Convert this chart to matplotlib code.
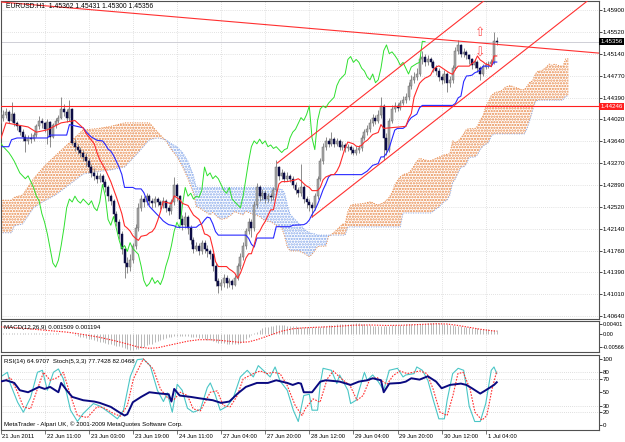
import numpy as np
import matplotlib
matplotlib.use("Agg")
import matplotlib.pyplot as plt
from matplotlib.transforms import blended_transform_factory as btf

plt.rcParams['font.family'] = ['Liberation Sans', 'DejaVu Sans']
plt.rcParams['hatch.linewidth'] = 1.1

BASE = 1.40  # prices are stored in pips above 1.4000

# ---------------- candles (EURUSD H1, bar 0 = 21 Jun 2011 19:00) ----------------
open_first = 400
close_pips = [405, 410, 415, 400, 412, 395, 390, 380, 372, 365,
              370, 368, 375, 390, 400, 395, 385, 398, 372, 392,
              400, 405, 420, 415, 405, 420, 362, 355, 350, 345,
              338, 330, 320, 310, 305, 300, 305, 295, 285, 270,
              262, 240, 225, 205, 180, 155, 148, 160, 185, 215,
              250, 265, 260, 270, 262, 258, 265, 260, 255, 262,
              250, 245, 260, 290, 270, 230, 220, 235, 215, 195,
              180, 185, 175, 190, 180, 175, 170, 150, 125, 115,
              120, 130, 120, 125, 118, 130, 150, 165, 185, 210,
              225, 215, 255, 285, 270, 275, 265, 270, 268, 280,
              320, 305, 310, 300, 305, 300, 290, 280, 275, 285,
              265, 260, 255, 250, 270, 300, 330, 355, 365, 360,
              368, 360, 365, 355, 358, 352, 355, 350, 345, 350,
              352, 370, 380, 385, 395, 405, 400, 410, 425, 370,
              350, 400, 420, 425, 422, 430, 435, 440, 460, 470,
              475, 480, 505, 510, 500, 505, 500, 490, 485, 475,
              470, 480, 465, 470, 490, 520, 530, 515, 518, 512,
              505, 495, 500, 490, 480, 492, 495, 498, 500, 536.2,
              535.6]
high_pips = [415, 418, 422, 418, 432, 414, 400, 393, 385, 376,
             375, 378, 380, 394, 408, 405, 398, 402, 400, 396,
             405, 410, 440, 428, 420, 435, 422, 368, 360, 355,
             350, 344, 336, 325, 318, 312, 310, 308, 300, 290,
             274, 265, 245, 230, 210, 185, 165, 170, 190, 222,
             258, 272, 270, 276, 274, 266, 270, 268, 264, 268,
             265, 255, 265, 303, 292, 272, 238, 242, 238, 220,
             200, 192, 190, 195, 195, 186, 180, 172, 155, 130,
             128, 136, 134, 130, 128, 135, 155, 172, 192, 215,
             232, 230, 262, 293, 290, 282, 280, 276, 275, 286,
             332, 322, 316, 314, 312, 308, 304, 295, 285, 325,
             290, 270, 265, 260, 276, 305, 336, 362, 372, 370,
             380, 372, 370, 368, 364, 362, 360, 358, 355, 356,
             358, 375, 386, 392, 402, 412, 410, 418, 441, 428,
             378, 405, 426, 432, 430, 436, 442, 448, 466, 478,
             484, 490, 512, 520, 514, 512, 510, 504, 495, 490,
             480, 486, 484, 476, 496, 527, 538, 532, 524, 522,
             515, 508, 506, 504, 494, 497, 500, 503, 506, 552,
             543.1]
low_pips = [395, 400, 405, 395, 398, 390, 383, 375, 365, 346,
            360, 362, 364, 372, 386, 388, 380, 360, 355, 370,
            388, 396, 402, 408, 398, 400, 358, 348, 343, 338,
            330, 322, 312, 303, 298, 292, 295, 290, 278, 262,
            255, 232, 218, 196, 170, 130, 138, 142, 155, 180,
            210, 245, 252, 255, 255, 250, 252, 253, 248, 250,
            243, 238, 240, 255, 262, 225, 212, 215, 205, 188,
            172, 175, 168, 170, 172, 165, 162, 142, 115, 103,
            108, 114, 112, 114, 110, 115, 126, 145, 160, 180,
            205, 200, 210, 250, 262, 264, 258, 260, 262, 264,
            276, 298, 300, 294, 296, 294, 284, 274, 268, 270,
            258, 250, 245, 234, 246, 265, 296, 326, 350, 354,
            356, 354, 356, 350, 350, 346, 348, 343, 340, 341,
            345, 348, 366, 375, 380, 390, 394, 396, 405, 332,
            340, 346, 396, 415, 416, 418, 426, 430, 436, 455,
            464, 470, 476, 498, 494, 495, 494, 484, 478, 468,
            462, 465, 449, 458, 465, 486, 515, 510, 510, 506,
            498, 488, 490, 484, 470, 476, 488, 490, 494, 498,
            530.0]

# ---------------- Ichimoku ----------------
tenkan_bar = [0, 2, 10, 13, 17, 22, 27, 30, 31, 34, 35, 36, 38, 40, 42, 44, 45, 46, 47, 48, 49, 50,
              51, 53, 54, 55, 56, 57, 58, 59, 60, 62, 63, 65, 66, 68, 69, 70, 72, 73, 74, 75, 76,
              77, 78, 79, 82, 83, 84, 85, 86, 87, 88, 89, 90, 91, 92, 93, 94, 95, 96, 97, 98, 99,
              100, 101, 102, 104, 105, 107, 108, 109, 110, 111, 112, 113, 115, 116, 117, 118, 120,
              121, 122, 123, 124, 125, 126, 127, 128, 129, 130, 131, 132, 133, 134, 135, 137, 138,
              139, 147, 148, 149, 150, 151, 152, 153, 154, 155, 156, 157, 158, 159, 160, 162, 163,
              164, 165, 166, 170, 171, 172, 173, 174, 175, 176, 177, 178, 179, 180]
tenkan_val = [367, 396, 389, 380, 384, 396, 400, 387, 378, 360, 345, 333, 316, 295, 269, 240, 219, 215, 210, 202, 197.5, 194,
              201, 203, 207, 209, 215.5, 228, 243, 260.5, 259.5, 257, 270.5, 264, 257.5, 254, 245.5, 237.5, 230, 220, 205, 203.5, 200,
              181, 157.5, 149, 149, 144.5, 141.5, 137.5, 129, 137.5, 150, 163.5, 171, 171, 186, 204, 209.5, 219, 226.5, 236.5, 246.5, 246.5,
              271, 291, 295, 295, 296, 298, 300, 296.5, 291.5, 287.5, 285, 279.5, 279.5, 285, 298, 303, 307,
              307, 313, 322.5, 338, 353, 363, 361.5, 360, 356, 355, 357.5, 363, 366, 371, 376, 379.5, 393,
              386.5, 390, 403, 412, 440, 452.5, 464, 469, 473, 475, 478, 487.5, 492, 494, 491, 484.5, 481.5,
              479.5, 488, 493.5, 493.5, 498, 501.5, 511, 504, 501, 497, 496, 492.5, 511, 511]
kijun_bar = [0, 3, 4, 6, 17, 18, 24, 25, 30, 31, 32, 33, 34, 35, 37, 38, 39, 40, 41, 42, 43, 44, 45, 48,
             49, 51, 52, 53, 54, 55, 56, 57, 58, 59, 60, 61, 62, 63, 64, 71, 72, 73, 74, 75, 76, 77, 78,
             79, 89, 90, 91, 92, 93, 99, 100, 105, 106, 110, 111, 112, 113, 114, 115, 116, 117, 118, 119,
             120, 131, 132, 133, 134, 135, 137, 138, 139, 140, 141, 142, 143, 144, 146, 147, 148, 149, 150,
             151, 152, 153, 164, 165, 166, 167, 168, 169, 170, 171, 172, 173, 174, 175, 178, 179, 180]
kijun_val = [355, 355, 367, 370, 370, 375, 375, 393, 387.5, 381, 376, 371.5, 369, 366, 365, 359, 351, 347.5, 340, 330, 320, 307.5, 285, 285,
             282.5, 282.5, 276, 264, 252.5, 247.5, 242.5, 237.5, 233, 227.5, 224, 221, 220, 219, 216.5, 216.5, 220.5, 222.5, 229, 234, 232.5, 222.5, 209,
             203, 203, 197.5, 187.5, 182.5, 198, 198, 217.5, 217.5, 220, 221, 223.5, 229, 238.5, 246, 256, 268, 281, 291, 303,
             307, 307, 310, 313, 318, 323, 326, 337.5, 337.5, 343.5, 353, 368.5, 383.5, 386.5, 386.5, 390, 399, 405, 408,
             411, 422, 426, 426, 429.5, 439, 442, 467, 476.5, 477, 478, 482, 484, 487, 493.5, 493.5, 500.5, 500.5]
CHIKOU_SHIFT = 26
cloud_bar = [0, 4, 5, 8, 12, 16, 20, 25, 30, 35, 40, 45, 50, 54, 57, 60, 62, 64, 66, 68, 70, 71, 72, 74, 76, 77,
             79, 80, 82, 84, 85, 86, 88, 89, 91, 94, 96, 98, 99, 100, 102, 103, 104, 105, 106, 107, 108, 109,
             110, 111, 112, 113, 114, 115, 116, 118, 119, 120, 121, 122, 123, 124, 125, 126, 127, 128, 131,
             134, 135, 136, 137, 138, 139, 140, 141, 142, 143, 144, 145, 146, 148, 149, 150, 151, 152, 155,
             156, 157, 158, 159, 160, 161, 162, 163, 164, 165, 166, 167, 168, 169, 170, 172, 173, 174, 175,
             176, 177, 178, 179, 180, 181, 182, 183, 184, 185, 186, 188, 189, 190, 191, 192, 193, 194, 195,
             196, 197, 198, 199, 200, 201, 202, 204, 205, 206]
senkou_a = [263, 263, 268, 272, 300, 322, 340, 362, 384, 386, 390, 396, 396, 396, 380, 365, 350, 338, 321, 300, 275, 252, 250, 244, 238, 242,
            233, 230, 232, 239, 244, 241, 238, 244, 240, 235, 227, 226, 223, 220, 216, 202, 183, 176, 176, 176, 176, 174,
            172, 169, 166, 170, 176, 183, 184, 184, 201, 204, 208, 212, 217, 222, 222, 244, 254, 256, 257,
            260, 259, 256, 255, 257, 259, 263, 268, 276, 289, 297, 303, 307, 310, 315, 322, 330, 335, 331,
            331, 333, 335, 337, 339, 341, 342, 343, 365, 362, 365, 370, 377, 385, 386, 386, 390, 401, 408,
            424, 432, 443, 447, 449, 450, 452, 457, 459, 460, 458, 455, 453, 453, 459, 466, 468, 480, 485,
            485, 488, 492, 497, 495, 497, 495, 493, 506, 506]
senkou_b = [207, 207, 219, 222, 250, 262, 272, 290, 308, 312, 315, 320, 345, 367, 370, 367, 360, 355, 345, 330, 305, 285, 285, 285, 285, 285,
            285, 285, 285, 285, 285, 285, 285, 285, 285, 285, 285, 285, 285, 282, 282, 276, 256, 239, 234, 229, 224, 219,
            214, 210, 207, 206, 205, 203, 203, 203, 203, 203, 203, 203, 203, 203, 203, 217, 217, 217, 217,
            217, 217, 217, 217, 217, 217, 217, 217, 217, 217, 217, 217, 241, 241, 241, 241, 241, 241, 241,
            241, 244, 248, 251, 256, 261, 263, 272, 293, 300, 310, 320, 320, 325, 337, 337, 341, 350, 356,
            359, 362, 373, 377, 377, 377, 377, 377, 377, 377, 377, 377, 377, 377, 386, 401, 417, 432, 435,
            435, 435, 435, 435, 435, 435, 435, 435, 442, 442]

# ---------------- drawn objects ----------------
resist_line_bar = [0, 216.9]          # descending trend line
resist_line_val = [603.8, 516.0]
chan_up_bar = [100.4, 178.0]
chan_up_val = [327.0, 615.7]
chan_lo_bar = [113.0, 216.7]
chan_lo_val = [234.0, 619.8]
hline_level = 1.44246
bid_level = 1.45356
arrow_up = (174, 551.0)
arrow_dn = (174, 516.0)

# ---------------- MACD(12,26,9), units of 1e-4 ----------------
macd_main = [5, 5, 6, 6, 6, 6, 5, 5, 5, 4, 4, 4, 4, 5, 5, 5, 5, 4, 4, 3, 3, 3, 2, 2, 1, 1,
             0, -3, -7, -11, -14, -17, -20, -23, -26, -29, -32, -35, -38, -41, -44, -47, -49, -51, -53, -58, -62, -67,
             -66, -64, -61, -58, -53, -48, -44, -40, -35, -30, -25, -21, -17, -14, -11,
             -10, -9, -8, -8, -9, -10, -11, -12, -13, -15,
             -18, -21, -24, -27, -30, -33, -36, -38, -39, -40, -40, -41, -40, -40, -39,
             -32, -22, -13, -4, 3, 10, 17, 24, 28, 31, 33, 35, 37, 38,
             37, 36, 35, 34, 33, 32, 31, 30, 30, 30, 31, 31, 31, 31, 31,
             33, 35, 37, 38, 39, 40, 41, 42, 43, 43, 44, 44, 45, 45,
             43, 41, 39, 37, 35, 33, 33, 32, 33, 34, 35, 36, 37, 37, 38,
             39, 40, 41, 42, 42, 43, 43, 44, 44, 45, 45, 45, 45, 45,
             43, 41, 40, 38, 36, 35, 33, 32, 31, 30, 29, 27, 26, 24,
             23, 22, 20, 19, 18, 16, 15]
macd_sig_bar = [0, 6, 12, 18, 24, 30, 36, 42, 46, 50, 54, 57, 60, 64, 68, 72, 76, 80, 84, 87, 90, 93, 96, 99,
                102, 106, 110, 116, 122, 128, 134, 140, 146, 152, 158, 162, 166, 170, 174, 178, 180]
macd_sig_val = [30, 26, 20, 14, 8, -2, -14, -30, -42, -55, -60, -58, -50, -40, -30, -24, -24, -27, -32, -35, -33, -24, -12, 0,
                12, 22, 26, 29, 32, 37, 38, 36, 37, 40, 43, 42, 36, 28, 20, 14, 12]

# ---------------- RSI(14) & Stochastic(5,3,3) ----------------
rsi_bar = [0, 2, 5, 7, 10, 12, 14, 16, 18, 21, 22, 24, 26, 30, 34, 36, 40, 43, 45, 46, 48, 51, 54, 58, 61, 62, 63,
           65, 69, 72, 77, 80, 83, 86, 89, 93, 97, 100, 104, 106, 108, 109, 110, 113, 116, 118, 123, 127, 130, 133,
           135, 138, 139, 141, 145, 147, 149, 152, 155, 158, 160, 163, 167, 169, 171, 174, 176, 179, 180]
rsi_val = [66, 68, 64, 53, 50, 54, 58, 55, 58, 50, 64, 53, 43, 38, 36, 34, 28, 20, 15, 17, 35, 43, 50, 48, 47, 36, 55,
           45, 43, 41, 38, 34, 36, 48, 58, 64, 64, 68, 64, 61, 64, 63, 50, 50, 66, 68, 66, 61, 66, 68,
           71, 68, 50, 63, 64, 66, 71, 69, 74, 66, 56, 61, 63, 61, 56, 48, 53, 61, 65]
sto_bar = [0, 2.5, 3.6, 6.2, 8.3, 10.9, 13.4, 15.2, 17, 19.2, 21, 22.8, 25.4, 27.9, 30, 33.7, 36.2, 39.9, 42.4, 44.6,
           47.1, 49.6, 51.8, 54.3, 56.9, 59.1, 60.5, 62.3, 64.1, 65.9, 67.8, 69.9, 72.5, 75, 76.1, 77.9, 79.7, 82.2,
           84.4, 87, 89.5, 91.7, 93.5, 95.3, 97.8, 99.6, 101.4, 104, 106.2, 108, 110, 112, 113, 115, 116, 117, 120,
           122, 123, 126, 127, 129, 132, 133, 135, 137, 139, 141, 144, 146, 147, 150, 151, 153, 155, 157, 159, 161,
           162, 164, 166, 168, 169, 170, 172, 174, 176, 178, 179, 180]
sto_main = [73, 80, 62, 35, 20, 42, 80, 83, 53, 80, 85, 70, 23, 6, 18, 33, 29, 18, 10, 23,
            74, 99, 100, 90, 53, 36, 49, 20, 62, 53, 26, 20, 24, 57, 64, 46, 23, 29,
            41, 73, 83, 73, 90, 83, 73, 88, 67, 53, 23, 6, 45, 47, 23, 23, 63, 86, 83,
            63, 76, 53, 33, 38, 80, 68, 76, 66, 53, 83, 86, 73, 76, 78, 88, 83, 68, 38, 10, 10,
            38, 78, 86, 83, 58, 29, 6, 6, 33, 83, 88, 78]
sig_bar = [0, 3.6, 6.2, 8.3, 10.9, 13.4, 15.6, 18, 20.7, 22.8, 25.4, 27.9, 31.5, 35, 37.3, 41, 43.5, 46, 48.2, 51.8,
           55.4, 58, 60.5, 62.7, 65.2, 67.8, 69.9, 72.5, 76.1, 78.6, 80.8, 83.3, 85.9, 88, 91.7, 94.2, 96.7, 98.9,
           101.4, 104, 106.9, 109.4, 110.5, 113.4, 115.9, 118.5, 120.7, 123.2, 126.8, 129.3, 131.5, 134, 136.6, 140.2,
           142.4, 144.9, 147.5, 149.6, 152.2, 154.7, 156.9, 159.4, 162, 164.1, 165.9, 167.8, 170.3, 172.1, 174.6,
           176.4, 178.3, 180]
sto_sig = [65, 72, 50, 28, 25, 55, 80, 68, 72, 80, 45, 15, 12, 28, 27, 18, 14, 30, 70, 100,
           85, 55, 42, 38, 50, 45, 25, 22, 50, 52, 30, 28, 45, 70, 78, 82, 78, 80,
           78, 60, 30, 15, 25, 40, 35, 70, 82, 72, 60, 38, 45, 70, 72, 62,
           75, 82, 78, 80, 82, 78, 55, 20, 15, 45, 78, 80, 55, 20, 8,
           15, 55, 82]

# ---------------- axis labels ----------------
price_ticks = [1.45900, 1.45520, 1.45140, 1.44770, 1.44390, 1.44020, 1.43640, 1.43270,
               1.42890, 1.42520, 1.42140, 1.41760, 1.41390, 1.41010, 1.40640]
time_tick_bar = [0, 16, 32, 48, 64, 80, 96, 112, 128, 144, 160, 176]
time_tick_lab = ["21 Jun 2011", "22 Jun 11:00", "23 Jun 03:00", "23 Jun 19:00", "24 Jun 11:00",
                 "27 Jun 04:00", "27 Jun 20:00", "28 Jun 12:00", "29 Jun 04:00", "29 Jun 20:00",
                 "30 Jun 12:00", "1 Jul 04:00"]
macd_ticks = [0.00401, 0.0, -0.00566]
macd_tick_lab = ["0.00401", "0.00", "-0.00566"]
rsi_ticks = [100, 80, 70, 50, 30, 20, 0]

# =====================================================================
W, H = 625, 442
fig = plt.figure(figsize=(W / 100, H / 100), dpi=100)
fig.patch.set_facecolor('white')


def ax_px(left, top, right, bottom):
    return fig.add_axes([left / W, 1 - bottom / H, (right - left) / W, (bottom - top) / H])


ax1 = ax_px(0.5, 1, 598.5, 319)
ax2 = ax_px(0.5, 321, 598.5, 352)
ax3 = ax_px(0.5, 355, 598.5, 430)
XL = (0.254, 216.9)
FS = 4.4
GRID = '#c8c8c8'

for ax in (ax1, ax2, ax3):
    ax.set_xlim(*XL)
    ax.set_facecolor('white')
    for s in ax.spines.values():
        s.set_color('#505050')
        s.set_linewidth(0.8)
    ax.set_xticks(time_tick_bar)
    ax.tick_params(axis='x', labelbottom=False, length=0)
    ax.yaxis.tick_right()
    ax.tick_params(axis='y', labelsize=FS, length=2, width=0.5, pad=1.0, colors='#000000')
    for b in time_tick_bar[1:]:
        ax.axvline(b, color=GRID, lw=0.5, ls=(0, (1, 2)), zorder=0)

P = lambda v: BASE + np.asarray(v, dtype=float) / 1e4

# ---------------- main panel ----------------
ax1.set_ylim(1.405883, 1.460547)
ax1.set_yticks(price_ticks)
ax1.set_yticklabels([f"{p:.5f}" for p in price_ticks])
for p in price_ticks:
    ax1.axhline(p, color=GRID, lw=0.5, ls=(0, (1, 2)), zorder=0)

# cloud
cx = np.array(cloud_bar, float)
sa, sb = P(senkou_a), P(senkou_b)
ax1.fill_between(cx, sa, sb, where=sa >= sb, interpolate=True, facecolor='none',
                 edgecolor='#e8894a', hatch='......', linewidth=0, zorder=1)
ax1.fill_between(cx, sa, sb, where=sa < sb, interpolate=True, facecolor='none',
                 edgecolor='#86a8ea', hatch='......', linewidth=0, zorder=1)
ax1.plot(cx, sa, color='#e8894a', lw=0.7, ls=(0, (1, 1.5)), zorder=2)
ax1.plot(cx, sb, color='#86a8ea', lw=0.7, ls=(0, (1, 1.5)), zorder=2)

# horizontal level and bid line
ax1.axhline(hline_level, color='#ff2020', lw=0.8, zorder=5)
ax1.axhline(bid_level, color='#c8c8d0', lw=0.6, zorder=1)

# candles
c = np.array(close_pips, float)
o = np.concatenate([[open_first], c[:-1]])
hh = np.array(high_pips, float)
ll = np.array(low_pips, float)
xb = np.arange(len(c))
ax1.vlines(xb, P(ll), P(hh), color='#787878', lw=0.6, zorder=3)
up = c >= o
body = np.maximum(np.abs(c - o), 0.6) / 1e4
ax1.bar(xb[up], body[up], bottom=P(np.minimum(o, c))[up], width=0.72,
        color='#a8a8a8', edgecolor='#6a6a6a', linewidth=0.35, zorder=4)
ax1.bar(xb[~up], body[~up], bottom=P(np.minimum(o, c))[~up], width=0.72,
        color='#0d0d45', edgecolor='#0d0d45', linewidth=0.35, zorder=4)

# ichimoku lines
ax1.plot(np.arange(len(c) - CHIKOU_SHIFT), P(c[CHIKOU_SHIFT:]), color='#2ee02e', lw=0.7, zorder=5)
ax1.plot(kijun_bar, P(kijun_val), color='#2828ff', lw=0.8, zorder=6)
ax1.plot(tenkan_bar, P(tenkan_val), color='#ff2a2a', lw=0.8, zorder=6)

# trend lines
ax1.plot(resist_line_bar, P(resist_line_val), color='#ff3030', lw=0.8, zorder=6)
ax1.plot(chan_up_bar, P(chan_up_val), color='#ff3030', lw=0.8, zorder=6)
ax1.plot(chan_lo_bar, P(chan_lo_val), color='#ff3030', lw=0.8, zorder=6)

# arrows
ax1.text(arrow_up[0], P(arrow_up[1]), '\u21e7', color='#ff5050', fontsize=9, ha='center', va='center',
         family='DejaVu Sans', zorder=7)
ax1.text(arrow_dn[0], P(arrow_dn[1]), '\u21e9', color='#ff5050', fontsize=9, ha='center', va='center',
         family='DejaVu Sans', zorder=7)

# highlighted price labels
tr = btf(ax1.transAxes, ax1.transData)
ax1.text(1.003, bid_level, f"{bid_level:.5f}", transform=tr, color='white', fontsize=FS, va='center', ha='left',
         bbox=dict(facecolor='#000000', edgecolor='none', pad=0.8), zorder=10, clip_on=False)
ax1.text(1.003, hline_level, f"{hline_level:.5f}", transform=tr, color='white', fontsize=FS, va='center', ha='left',
         bbox=dict(facecolor='#ff2020', edgecolor='none', pad=0.8), zorder=10, clip_on=False)

ax1.text(5 / 598, 1 - 6 / 318, "EURUSD.H1  1.45362 1.45431 1.45300 1.45356", transform=ax1.transAxes,
         fontsize=4.9, va='center', ha='left', color='#000000', zorder=10)

# ---------------- MACD panel ----------------
ax2.set_ylim(-0.007569, 0.005467)
ax2.set_yticks(macd_ticks)
ax2.set_yticklabels(macd_tick_lab)
ax2.tick_params(axis='y', labelsize=4.0, pad=0.8)
mm = np.array(macd_main, float) / 1e4
ax2.vlines(np.arange(len(mm)), 0, mm, color='#b8b8b8', lw=0.7, zorder=2)
ax2.plot(macd_sig_bar, np.array(macd_sig_val, float) / 1e4, color='#ff2020', lw=0.8, ls=(0, (1.2, 1.2)), zorder=3)
ax2.text(3 / 598, 0.80, "MACD(12,26,9) 0.001509 0.001194", transform=ax2.transAxes, fontsize=FS, va='center',
         ha='left', color='#000000')

# ---------------- RSI / Stochastic panel ----------------
ax3.set_ylim(-6.77, 106.0)
ax3.set_yticks(rsi_ticks)
ax3.set_yticklabels([str(t) for t in rsi_ticks])
for lv in (80, 70, 30, 20):
    ax3.axhline(lv, color='#c0c0c0', lw=0.5, ls=(0, (1, 2)), zorder=0)
ax3.plot(sto_bar, sto_main, color='#4ac6c6', lw=0.8, zorder=2)
ax3.plot(sig_bar, sto_sig, color='#ff3030', lw=0.8, ls=(0, (1.5, 1.2)), zorder=3)
ax3.plot(rsi_bar, rsi_val, color='#0a0a80', lw=1.4, zorder=4)
ax3.text(4 / 598, 0.92, "RSI(14) 64.9707  Stoch(5,3,3) 77.7428 82.0468", transform=ax3.transAxes,
         fontsize=FS, va='center', ha='left', color='#000000', zorder=6)
ax3.text(3 / 598, 0.08, "MetaTrader - Alpari UK, \u00a9 2001-2009 MetaQuotes Software Corp.", transform=ax3.transAxes,
         fontsize=FS, va='center', ha='left', color='#000000', zorder=6)

# time axis
ax3.tick_params(axis='x', length=3, width=0.5, direction='out', color='#404040')
trx = btf(ax3.transData, fig.transFigure)
for b, lab in zip(time_tick_bar, time_tick_lab):
    ax3.text(b + 0.7, 1 - 437 / H, lab, transform=trx, fontsize=4.2, va='center', ha='left', color='#000000',
             clip_on=False)

fig.savefig("out.png", dpi=100, facecolor='white')
